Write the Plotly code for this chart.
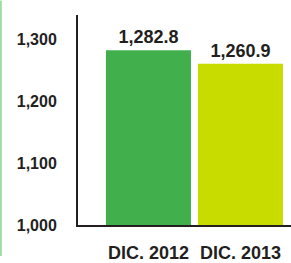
import plotly.graph_objects as go

categories = ["DIC. 2012", "DIC. 2013"]
values = [1282.8, 1260.9]
bar_colors = ["#41af4b", "#c8dc00"]
y_tickvals = [1000, 1100, 1200, 1300]

W, H = 291, 263
ML, MR, MT, MB = 78, 0, 15, 32
PW = W - ML - MR
PH = H - MT - MB

TXT = "#231f20"
FONT = "Liberation Sans, Arial, sans-serif"

fig = go.Figure(
    go.Bar(
        x=categories,
        y=values,
        marker=dict(color=bar_colors, line=dict(width=0)),
        width=0.924,
        texttemplate="%{y:,.1f}",
        textposition="outside",
        textfont=dict(family=FONT, size=18, color=TXT, weight="bold"),
        cliponaxis=False,
    )
)

fig.update_layout(
    width=W,
    height=H,
    margin=dict(l=ML, r=MR, t=MT, b=MB, pad=0),
    paper_bgcolor="white",
    plot_bgcolor="white",
    showlegend=False,
    font=dict(family=FONT, color=TXT),
    shapes=[
        dict(
            type="line",
            xref="paper",
            yref="paper",
            x0=-(ML - 0.8) / PW,
            x1=-(ML - 0.8) / PW,
            y0=-MB / PH,
            y1=1 + MT / PH,
            line=dict(color="#9edb9e", width=2),
        )
    ],
)

fig.update_xaxes(
    type="category",
    range=[-0.766, 1.549],
    showgrid=False,
    showline=True,
    linecolor="#231f20",
    linewidth=2,
    ticks="",
    ticklabelstandoff=10,
    tickfont=dict(family=FONT, size=18, color=TXT, weight="bold"),
    zeroline=False,
)

fig.update_yaxes(
    range=[1000, 1340],
    tickvals=y_tickvals,
    tickformat=",d",
    showgrid=False,
    showline=True,
    linecolor="#231f20",
    linewidth=2,
    ticks="",
    ticklabelstandoff=16,
    tickfont=dict(family=FONT, size=16, color=TXT, weight="bold"),
    zeroline=False,
)

fig.write_html(
    "out.html",
    config={"displayModeBar": False},
    post_script="document.body.style.margin='0';document.body.style.overflow='hidden';",
)
